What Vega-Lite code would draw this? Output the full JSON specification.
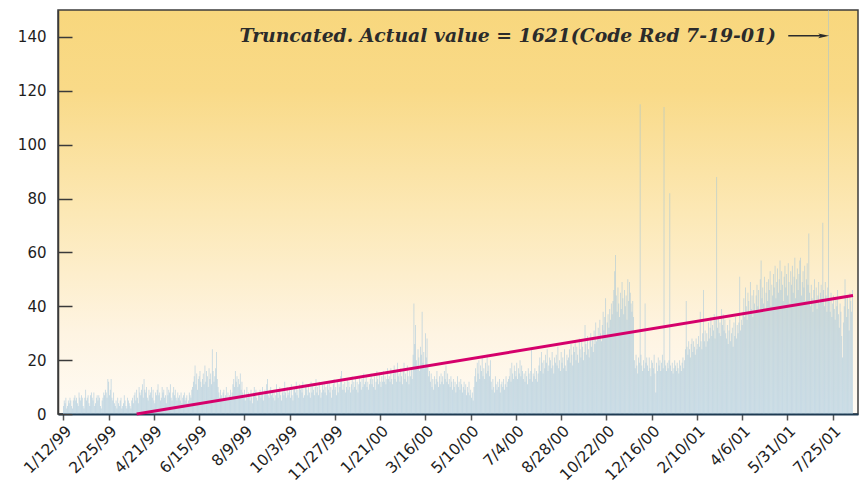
{
"$schema": "https://vega.github.io/schema/vega-lite/v6.json",
"width": 800, "height": 404,
"autosize": {"type": "none"},
"padding": {"left": 58, "top": 10, "right": 4, "bottom": 73},
"background": "white",
"config": {
  "view": {"stroke": "#3d3d3d", "strokeWidth": 1.5,
    "fill": {"gradient": "linear", "x1": 0, "y1": 0, "x2": 0, "y2": 1,
      "stops": [{"offset": 0, "color": "#f8d77d"}, {"offset": 0.2, "color": "#f9da88"}, {"offset": 0.5, "color": "#fce8b5"}, {"offset": 0.8, "color": "#fef4e2"}, {"offset": 1, "color": "#fffbf4"}]}},
  "axis": {"labelFont": "DejaVu Sans", "labelFontSize": 15, "labelColor": "#1e1e1e", "domainColor": "#3a3a3a", "tickColor": "#3a3a3a", "grid": false, "title": null}
},
"data": {"values": [
{"i":0,"v":3},{"i":1,"v":5},{"i":2,"v":4},{"i":3,"v":6},{"i":4,"v":2},{"i":5,"v":3},{"i":6,"v":5},
{"i":7,"v":4},{"i":8,"v":6},{"i":9,"v":5},{"i":10,"v":3},{"i":11,"v":2},{"i":12,"v":5},{"i":13,"v":6},
{"i":14,"v":7},{"i":15,"v":5},{"i":16,"v":6},{"i":17,"v":4},{"i":18,"v":3},{"i":19,"v":8},{"i":20,"v":6},
{"i":21,"v":5},{"i":22,"v":7},{"i":23,"v":6},{"i":24,"v":3},{"i":25,"v":2},{"i":26,"v":6},{"i":27,"v":9},
{"i":28,"v":5},{"i":29,"v":6},{"i":30,"v":7},{"i":31,"v":4},{"i":32,"v":3},{"i":33,"v":7},{"i":34,"v":8},
{"i":35,"v":6},{"i":36,"v":5},{"i":37,"v":8},{"i":38,"v":3},{"i":39,"v":4},{"i":40,"v":6},{"i":41,"v":7},
{"i":42,"v":5},{"i":43,"v":7},{"i":44,"v":6},{"i":45,"v":3},{"i":46,"v":2},{"i":47,"v":5},{"i":48,"v":6},
{"i":49,"v":8},
{"i":50,"v":7},{"i":51,"v":9},{"i":52,"v":8},{"i":53,"v":6},{"i":54,"v":13},{"i":55,"v":12},{"i":56,"v":7},
{"i":57,"v":9},{"i":58,"v":13},{"i":59,"v":6},{"i":60,"v":5},{"i":61,"v":8},
{"i":62,"v":4},{"i":63,"v":3},{"i":64,"v":5},{"i":65,"v":2},{"i":66,"v":6},{"i":67,"v":4},{"i":68,"v":3},
{"i":69,"v":5},{"i":70,"v":6},{"i":71,"v":2},{"i":72,"v":3},{"i":73,"v":4},{"i":74,"v":7},{"i":75,"v":5},
{"i":76,"v":3},{"i":77,"v":2},{"i":78,"v":6},{"i":79,"v":5},{"i":80,"v":4},{"i":81,"v":3},{"i":82,"v":2},
{"i":83,"v":5},{"i":84,"v":6},{"i":85,"v":4},
{"i":86,"v":7},{"i":87,"v":8},{"i":88,"v":5},{"i":89,"v":9},{"i":90,"v":6},{"i":91,"v":4},{"i":92,"v":10},
{"i":93,"v":8},{"i":94,"v":7},{"i":95,"v":9},{"i":96,"v":11},{"i":97,"v":6},{"i":98,"v":13},{"i":99,"v":9},
{"i":100,"v":8},{"i":101,"v":10},{"i":102,"v":6},{"i":103,"v":5},{"i":104,"v":9},{"i":105,"v":7},{"i":106,"v":8},
{"i":107,"v":10},{"i":108,"v":6},{"i":109,"v":9},{"i":110,"v":5},{"i":111,"v":4},{"i":112,"v":8},{"i":113,"v":7},
{"i":114,"v":9},{"i":115,"v":11},{"i":116,"v":7},{"i":117,"v":8},{"i":118,"v":5},{"i":119,"v":6},{"i":120,"v":10},
{"i":121,"v":8},{"i":122,"v":9},{"i":123,"v":6},{"i":124,"v":7},{"i":125,"v":4},{"i":126,"v":10},{"i":127,"v":7},
{"i":128,"v":9},{"i":129,"v":8},{"i":130,"v":11},{"i":131,"v":6},{"i":132,"v":5},{"i":133,"v":8},{"i":134,"v":10},
{"i":135,"v":7},{"i":136,"v":9},{"i":137,"v":6},{"i":138,"v":5},{"i":139,"v":8},
{"i":140,"v":6},{"i":141,"v":7},{"i":142,"v":5},{"i":143,"v":8},{"i":144,"v":4},{"i":145,"v":6},{"i":146,"v":7},
{"i":147,"v":8},{"i":148,"v":5},{"i":149,"v":6},{"i":150,"v":7},{"i":151,"v":4},{"i":152,"v":5},{"i":153,"v":8},
{"i":154,"v":7},{"i":155,"v":6},{"i":156,"v":9},{"i":157,"v":10},
{"i":158,"v":12},{"i":159,"v":14},{"i":160,"v":18},{"i":161,"v":11},{"i":162,"v":15},{"i":163,"v":9},{"i":164,"v":13},
{"i":165,"v":14},{"i":166,"v":16},{"i":167,"v":12},{"i":168,"v":10},{"i":169,"v":13},{"i":170,"v":15},{"i":171,"v":11},
{"i":172,"v":18},{"i":173,"v":12},{"i":174,"v":16},{"i":175,"v":14},{"i":176,"v":10},{"i":177,"v":17},{"i":178,"v":13},
{"i":179,"v":15},{"i":180,"v":11},{"i":181,"v":24},{"i":182,"v":16},{"i":183,"v":12},{"i":184,"v":14},{"i":185,"v":17},
{"i":186,"v":23},{"i":187,"v":13},
{"i":188,"v":10},{"i":189,"v":8},{"i":190,"v":6},{"i":191,"v":9},{"i":192,"v":7},{"i":193,"v":5},{"i":194,"v":8},
{"i":195,"v":9},{"i":196,"v":6},{"i":197,"v":7},{"i":198,"v":10},{"i":199,"v":5},{"i":200,"v":8},{"i":201,"v":6},
{"i":202,"v":7},{"i":203,"v":9},{"i":204,"v":6},{"i":205,"v":8},
{"i":206,"v":11},{"i":207,"v":13},{"i":208,"v":10},{"i":209,"v":16},{"i":210,"v":12},{"i":211,"v":14},{"i":212,"v":10},
{"i":213,"v":13},{"i":214,"v":11},{"i":215,"v":15},{"i":216,"v":9},{"i":217,"v":12},
{"i":218,"v":8},{"i":219,"v":6},{"i":220,"v":9},{"i":221,"v":5},{"i":222,"v":7},{"i":223,"v":10},{"i":224,"v":6},
{"i":225,"v":8},{"i":226,"v":7},{"i":227,"v":5},{"i":228,"v":9},{"i":229,"v":6},{"i":230,"v":4},{"i":231,"v":8},
{"i":232,"v":10},{"i":233,"v":7},{"i":234,"v":9},{"i":235,"v":6},{"i":236,"v":5},{"i":237,"v":8},{"i":238,"v":7},
{"i":239,"v":9},{"i":240,"v":6},{"i":241,"v":8},{"i":242,"v":10},{"i":243,"v":5},{"i":244,"v":7},{"i":245,"v":9},
{"i":246,"v":8},{"i":247,"v":11},{"i":248,"v":13},{"i":249,"v":7},{"i":250,"v":6},{"i":251,"v":9},{"i":252,"v":10},
{"i":253,"v":7},{"i":254,"v":8},{"i":255,"v":6},{"i":256,"v":9},{"i":257,"v":5},{"i":258,"v":7},{"i":259,"v":11},
{"i":260,"v":8},{"i":261,"v":6},{"i":262,"v":9},{"i":263,"v":10},{"i":264,"v":7},{"i":265,"v":5},{"i":266,"v":8},
{"i":267,"v":9},{"i":268,"v":7},{"i":269,"v":12},{"i":270,"v":8},{"i":271,"v":6},{"i":272,"v":10},{"i":273,"v":7},
{"i":274,"v":8},{"i":275,"v":9},{"i":276,"v":6},{"i":277,"v":11},{"i":278,"v":7},{"i":279,"v":5},{"i":280,"v":9},
{"i":281,"v":10},{"i":282,"v":8},{"i":283,"v":12},{"i":284,"v":7},{"i":285,"v":9},{"i":286,"v":6},{"i":287,"v":11},
{"i":288,"v":9},{"i":289,"v":10},{"i":290,"v":8},{"i":291,"v":12},{"i":292,"v":6},{"i":293,"v":7},{"i":294,"v":10},
{"i":295,"v":11},{"i":296,"v":9},{"i":297,"v":7},{"i":298,"v":10},{"i":299,"v":8},{"i":300,"v":6},{"i":301,"v":12},
{"i":302,"v":8},{"i":303,"v":11},{"i":304,"v":9},{"i":305,"v":7},{"i":306,"v":10},{"i":307,"v":13},{"i":308,"v":8},
{"i":309,"v":10},{"i":310,"v":7},{"i":311,"v":12},{"i":312,"v":9},{"i":313,"v":6},{"i":314,"v":8},{"i":315,"v":11},
{"i":316,"v":9},{"i":317,"v":12},{"i":318,"v":8},{"i":319,"v":10},{"i":320,"v":7},{"i":321,"v":11},{"i":322,"v":9},
{"i":323,"v":12},{"i":324,"v":8},{"i":325,"v":10},{"i":326,"v":6},{"i":327,"v":9},{"i":328,"v":11},{"i":329,"v":13},
{"i":330,"v":9},{"i":331,"v":10},{"i":332,"v":7},{"i":333,"v":12},{"i":334,"v":8},{"i":335,"v":11},{"i":336,"v":10},
{"i":337,"v":14},{"i":338,"v":16},{"i":339,"v":9},
{"i":340,"v":11},{"i":341,"v":9},{"i":342,"v":12},{"i":343,"v":8},{"i":344,"v":10},{"i":345,"v":13},{"i":346,"v":9},
{"i":347,"v":12},{"i":348,"v":10},{"i":349,"v":8},{"i":350,"v":11},{"i":351,"v":14},{"i":352,"v":9},{"i":353,"v":12},
{"i":354,"v":10},{"i":355,"v":13},{"i":356,"v":9},{"i":357,"v":12},{"i":358,"v":8},{"i":359,"v":11},{"i":360,"v":14},
{"i":361,"v":12},{"i":362,"v":9},{"i":363,"v":13},{"i":364,"v":10},{"i":365,"v":15},{"i":366,"v":11},{"i":367,"v":12},
{"i":368,"v":14},{"i":369,"v":10},{"i":370,"v":12},{"i":371,"v":9},{"i":372,"v":11},{"i":373,"v":13},{"i":374,"v":15},
{"i":375,"v":11},{"i":376,"v":13},{"i":377,"v":10},{"i":378,"v":14},{"i":379,"v":9},{"i":380,"v":12},{"i":381,"v":16},
{"i":382,"v":13},{"i":383,"v":11},{"i":384,"v":15},{"i":385,"v":12},{"i":386,"v":10},{"i":387,"v":14},{"i":388,"v":12},
{"i":389,"v":16},{"i":390,"v":12},{"i":391,"v":14},{"i":392,"v":11},{"i":393,"v":13},{"i":394,"v":17},{"i":395,"v":13},
{"i":396,"v":14},{"i":397,"v":12},{"i":398,"v":17},{"i":399,"v":13},{"i":400,"v":11},{"i":401,"v":15},{"i":402,"v":18},
{"i":403,"v":13},{"i":404,"v":16},{"i":405,"v":12},{"i":406,"v":19},{"i":407,"v":14},
{"i":408,"v":15},{"i":409,"v":12},{"i":410,"v":17},{"i":411,"v":14},{"i":412,"v":11},{"i":413,"v":16},{"i":414,"v":19},
{"i":415,"v":13},{"i":416,"v":15},{"i":417,"v":12},{"i":418,"v":18},{"i":419,"v":14},{"i":420,"v":11},{"i":421,"v":16},
{"i":422,"v":14},{"i":423,"v":17},{"i":424,"v":13},
{"i":425,"v":22},{"i":426,"v":41},{"i":427,"v":26},{"i":428,"v":33},{"i":429,"v":20},{"i":430,"v":18},{"i":431,"v":24},
{"i":432,"v":21},{"i":433,"v":16},{"i":434,"v":25},{"i":435,"v":22},{"i":436,"v":38},{"i":437,"v":19},{"i":438,"v":23},
{"i":439,"v":17},{"i":440,"v":30},{"i":441,"v":21},{"i":442,"v":28},{"i":443,"v":18},{"i":444,"v":14},{"i":445,"v":16},
{"i":446,"v":12},{"i":447,"v":15},{"i":448,"v":10},{"i":449,"v":13},{"i":450,"v":9},{"i":451,"v":14},{"i":452,"v":11},
{"i":453,"v":13},{"i":454,"v":16},{"i":455,"v":12},{"i":456,"v":10},{"i":457,"v":14},{"i":458,"v":11},{"i":459,"v":15},
{"i":460,"v":12},{"i":461,"v":14},{"i":462,"v":11},{"i":463,"v":16},{"i":464,"v":13},{"i":465,"v":18},{"i":466,"v":12},
{"i":467,"v":15},{"i":468,"v":11},{"i":469,"v":13},{"i":470,"v":10},{"i":471,"v":14},{"i":472,"v":12},{"i":473,"v":9},
{"i":474,"v":13},{"i":475,"v":10},{"i":476,"v":12},{"i":477,"v":8},{"i":478,"v":11},{"i":479,"v":14},{"i":480,"v":10},
{"i":481,"v":12},{"i":482,"v":9},{"i":483,"v":13},{"i":484,"v":11},{"i":485,"v":8},{"i":486,"v":10},{"i":487,"v":12},
{"i":488,"v":9},{"i":489,"v":11},{"i":490,"v":7},{"i":491,"v":10},{"i":492,"v":8},{"i":493,"v":12},
{"i":494,"v":7},{"i":495,"v":9},{"i":496,"v":6},{"i":497,"v":8},{"i":498,"v":5},{"i":499,"v":10},
{"i":500,"v":14},{"i":501,"v":17},{"i":502,"v":12},{"i":503,"v":19},{"i":504,"v":15},{"i":505,"v":20},{"i":506,"v":13},
{"i":507,"v":18},{"i":508,"v":16},{"i":509,"v":21},{"i":510,"v":14},{"i":511,"v":17},{"i":512,"v":13},{"i":513,"v":19},
{"i":514,"v":15},{"i":515,"v":22},{"i":516,"v":16},{"i":517,"v":18},{"i":518,"v":14},{"i":519,"v":20},
{"i":520,"v":12},{"i":521,"v":9},{"i":522,"v":13},{"i":523,"v":10},{"i":524,"v":8},{"i":525,"v":14},{"i":526,"v":11},
{"i":527,"v":9},{"i":528,"v":12},{"i":529,"v":10},{"i":530,"v":13},{"i":531,"v":8},{"i":532,"v":11},{"i":533,"v":12},
{"i":534,"v":10},{"i":535,"v":13},{"i":536,"v":9},{"i":537,"v":11},{"i":538,"v":14},{"i":539,"v":10},{"i":540,"v":12},{"i":541,"v":13},
{"i":542,"v":14},{"i":543,"v":17},{"i":544,"v":12},{"i":545,"v":19},{"i":546,"v":15},{"i":547,"v":13},{"i":548,"v":18},
{"i":549,"v":16},{"i":550,"v":14},{"i":551,"v":19},{"i":552,"v":13},{"i":553,"v":17},{"i":554,"v":15},{"i":555,"v":20},
{"i":556,"v":14},{"i":557,"v":18},{"i":558,"v":16},
{"i":559,"v":13},{"i":560,"v":15},{"i":561,"v":12},{"i":562,"v":16},{"i":563,"v":14},{"i":564,"v":11},{"i":565,"v":17},
{"i":566,"v":15},{"i":567,"v":13},{"i":568,"v":16},{"i":569,"v":24},{"i":570,"v":12},{"i":571,"v":15},{"i":572,"v":14},
{"i":573,"v":17},{"i":574,"v":13},{"i":575,"v":16},{"i":576,"v":12},{"i":577,"v":15},
{"i":578,"v":18},{"i":579,"v":21},{"i":580,"v":16},{"i":581,"v":23},{"i":582,"v":19},{"i":583,"v":15},{"i":584,"v":20},
{"i":585,"v":17},{"i":586,"v":22},{"i":587,"v":19},{"i":588,"v":24},{"i":589,"v":16},{"i":590,"v":18},{"i":591,"v":21},
{"i":592,"v":20},{"i":593,"v":17},{"i":594,"v":23},{"i":595,"v":18},{"i":596,"v":15},{"i":597,"v":21},{"i":598,"v":19},
{"i":599,"v":22},{"i":600,"v":18},{"i":601,"v":25},{"i":602,"v":17},{"i":603,"v":20},{"i":604,"v":16},{"i":605,"v":23},
{"i":606,"v":19},{"i":607,"v":21},{"i":608,"v":17},{"i":609,"v":24},{"i":610,"v":18},{"i":611,"v":16},{"i":612,"v":22},
{"i":613,"v":20},
{"i":614,"v":21},{"i":615,"v":24},{"i":616,"v":19},{"i":617,"v":26},{"i":618,"v":22},{"i":619,"v":18},{"i":620,"v":25},
{"i":621,"v":23},{"i":622,"v":27},{"i":623,"v":20},{"i":624,"v":25},{"i":625,"v":22},{"i":626,"v":19},{"i":627,"v":28},
{"i":628,"v":24},{"i":629,"v":21},{"i":630,"v":27},{"i":631,"v":25},{"i":632,"v":20},{"i":633,"v":23},{"i":634,"v":33},
{"i":635,"v":26},{"i":636,"v":22},{"i":637,"v":29},{"i":638,"v":24},{"i":639,"v":21},{"i":640,"v":27},{"i":641,"v":30},
{"i":642,"v":25},{"i":643,"v":28},{"i":644,"v":23},{"i":645,"v":31},{"i":646,"v":26},{"i":647,"v":34},{"i":648,"v":27},
{"i":649,"v":29},
{"i":650,"v":32},{"i":651,"v":28},{"i":652,"v":35},{"i":653,"v":30},{"i":654,"v":27},{"i":655,"v":33},{"i":656,"v":38},
{"i":657,"v":31},{"i":658,"v":36},{"i":659,"v":43},{"i":660,"v":29},{"i":661,"v":34},{"i":662,"v":37},{"i":663,"v":32},
{"i":664,"v":39},{"i":665,"v":35},{"i":666,"v":41},{"i":667,"v":37},
{"i":668,"v":42},{"i":669,"v":46},{"i":670,"v":53},{"i":671,"v":59},{"i":672,"v":44},{"i":673,"v":38},{"i":674,"v":47},
{"i":675,"v":41},{"i":676,"v":36},{"i":677,"v":45},{"i":678,"v":39},{"i":679,"v":49},{"i":680,"v":43},{"i":681,"v":37},
{"i":682,"v":46},{"i":683,"v":40},{"i":684,"v":44},{"i":685,"v":35},{"i":686,"v":50},{"i":687,"v":42},{"i":688,"v":49},
{"i":689,"v":45},{"i":690,"v":41},{"i":691,"v":38},{"i":692,"v":42},{"i":693,"v":36},
{"i":694,"v":20},{"i":695,"v":17},{"i":696,"v":22},{"i":697,"v":18},{"i":698,"v":15},{"i":699,"v":21},{"i":700,"v":19},
{"i":701,"v":115},
{"i":702,"v":22},{"i":703,"v":18},{"i":704,"v":16},{"i":705,"v":20},{"i":706,"v":17},{"i":707,"v":41},{"i":708,"v":19},{"i":709,"v":21},
{"i":710,"v":18},{"i":711,"v":16},{"i":712,"v":21},{"i":713,"v":17},{"i":714,"v":14},{"i":715,"v":20},{"i":716,"v":19},
{"i":717,"v":17},{"i":718,"v":22},{"i":719,"v":15},{"i":720,"v":8},{"i":721,"v":19},{"i":722,"v":16},{"i":723,"v":21},
{"i":724,"v":18},{"i":725,"v":20},{"i":726,"v":16},{"i":727,"v":19},{"i":728,"v":22},{"i":729,"v":17},
{"i":730,"v":114},
{"i":731,"v":20},{"i":732,"v":18},{"i":733,"v":16},
{"i":734,"v":19},{"i":735,"v":17},{"i":736,"v":20},
{"i":737,"v":82},
{"i":738,"v":18},{"i":739,"v":16},{"i":740,"v":19},{"i":741,"v":15},{"i":742,"v":17},{"i":743,"v":20},{"i":744,"v":18},
{"i":745,"v":16},{"i":746,"v":19},{"i":747,"v":17},{"i":748,"v":15},{"i":749,"v":20},{"i":750,"v":18},{"i":751,"v":16},
{"i":752,"v":19},{"i":753,"v":21},{"i":754,"v":17},{"i":755,"v":20},{"i":756,"v":24},
{"i":757,"v":42},
{"i":758,"v":25},{"i":759,"v":22},{"i":760,"v":27},{"i":761,"v":24},{"i":762,"v":21},{"i":763,"v":26},{"i":764,"v":28},
{"i":765,"v":23},{"i":766,"v":27},{"i":767,"v":25},{"i":768,"v":22},{"i":769,"v":28},{"i":770,"v":24},{"i":771,"v":26},
{"i":772,"v":29},{"i":773,"v":25},{"i":774,"v":38},{"i":775,"v":27},{"i":776,"v":24},{"i":777,"v":30},
{"i":778,"v":46},
{"i":779,"v":27},{"i":780,"v":31},{"i":781,"v":25},
{"i":782,"v":30},{"i":783,"v":27},{"i":784,"v":34},{"i":785,"v":28},{"i":786,"v":32},{"i":787,"v":36},{"i":788,"v":29},
{"i":789,"v":33},{"i":790,"v":31},{"i":791,"v":37},{"i":792,"v":28},{"i":793,"v":35},
{"i":794,"v":88},
{"i":795,"v":32},{"i":796,"v":36},{"i":797,"v":30},{"i":798,"v":34},{"i":799,"v":29},{"i":800,"v":39},{"i":801,"v":33},
{"i":802,"v":37},{"i":803,"v":31},{"i":804,"v":35},{"i":805,"v":30},
{"i":806,"v":28},{"i":807,"v":33},{"i":808,"v":26},{"i":809,"v":31},{"i":810,"v":35},{"i":811,"v":27},{"i":812,"v":30},
{"i":813,"v":32},{"i":814,"v":25},{"i":815,"v":34},{"i":816,"v":29},{"i":817,"v":36},{"i":818,"v":28},{"i":819,"v":33},
{"i":820,"v":30},{"i":821,"v":34},
{"i":822,"v":51},
{"i":823,"v":31},{"i":824,"v":35},{"i":825,"v":33},
{"i":826,"v":38},{"i":827,"v":43},{"i":828,"v":36},{"i":829,"v":47},{"i":830,"v":40},{"i":831,"v":35},{"i":832,"v":45},
{"i":833,"v":42},{"i":834,"v":37},{"i":835,"v":49},{"i":836,"v":39},{"i":837,"v":44},{"i":838,"v":36},{"i":839,"v":46},
{"i":840,"v":41},{"i":841,"v":38},
{"i":842,"v":44},{"i":843,"v":48},{"i":844,"v":40},{"i":845,"v":46},{"i":846,"v":38},{"i":847,"v":50},{"i":848,"v":57},
{"i":849,"v":43},{"i":850,"v":47},{"i":851,"v":41},{"i":852,"v":51},{"i":853,"v":39},{"i":854,"v":45},{"i":855,"v":49},
{"i":856,"v":42},{"i":857,"v":50},{"i":858,"v":46},{"i":859,"v":53},{"i":860,"v":40},{"i":861,"v":48},{"i":862,"v":44},
{"i":863,"v":52},{"i":864,"v":47},{"i":865,"v":55},{"i":866,"v":43},{"i":867,"v":49},{"i":868,"v":54},{"i":869,"v":45},
{"i":870,"v":50},{"i":871,"v":57},{"i":872,"v":46},{"i":873,"v":53},{"i":874,"v":48},{"i":875,"v":42},{"i":876,"v":51},
{"i":877,"v":55},
{"i":878,"v":47},{"i":879,"v":52},{"i":880,"v":44},{"i":881,"v":56},{"i":882,"v":49},{"i":883,"v":41},{"i":884,"v":53},
{"i":885,"v":48},{"i":886,"v":55},{"i":887,"v":45},{"i":888,"v":51},{"i":889,"v":58},{"i":890,"v":43},{"i":891,"v":50},
{"i":892,"v":54},{"i":893,"v":46},{"i":894,"v":52},{"i":895,"v":57},{"i":896,"v":58},{"i":897,"v":44},{"i":898,"v":49},
{"i":899,"v":53},{"i":900,"v":47},{"i":901,"v":55},{"i":902,"v":42},{"i":903,"v":50},{"i":904,"v":56},{"i":905,"v":48},
{"i":906,"v":67},
{"i":907,"v":45},{"i":908,"v":40},{"i":909,"v":48},{"i":910,"v":43},{"i":911,"v":38},{"i":912,"v":46},{"i":913,"v":50},
{"i":914,"v":42},{"i":915,"v":47},{"i":916,"v":39},{"i":917,"v":44},{"i":918,"v":49},{"i":919,"v":41},{"i":920,"v":45},
{"i":921,"v":48},{"i":922,"v":43},
{"i":923,"v":71},
{"i":924,"v":46},{"i":925,"v":40},{"i":926,"v":49},{"i":927,"v":44},{"i":928,"v":38},{"i":929,"v":47},
{"i":930,"v":1621},
{"i":931,"v":42},{"i":932,"v":38},{"i":933,"v":45},{"i":934,"v":36},{"i":935,"v":41},{"i":936,"v":44},{"i":937,"v":39},
{"i":938,"v":35},{"i":939,"v":43},{"i":940,"v":40},{"i":941,"v":46},{"i":942,"v":37},{"i":943,"v":32},{"i":944,"v":41},
{"i":945,"v":38},{"i":946,"v":29},{"i":947,"v":21},{"i":948,"v":34},{"i":949,"v":40},{"i":950,"v":50},{"i":951,"v":43},
{"i":952,"v":36},{"i":953,"v":44},{"i":954,"v":39},{"i":955,"v":31},{"i":956,"v":45},{"i":957,"v":42},{"i":958,"v":38},
{"i":959,"v":46}
]},
"layer": [
  {
    "mark": {"type": "bar", "size": 0.85, "color": "#9fc3da", "opacity": 0.6, "clip": true},
    "encoding": {
      "x": {"field": "i", "type": "quantitative",
        "scale": {"domain": [-0.5, 959.7], "nice": false, "zero": false},
        "axis": {"values": [0,55,110,165,220,275,330,385,440,495,550,605,660,715,770,825,880,935],
          "labelExpr": "['1/12/99','2/25/99','4/21/99','6/15/99','8/9/99','10/3/99','11/27/99','1/21/00','3/16/00','5/10/00','7/4/00','8/28/00','10/22/00','12/16/00','2/10/01','4/6/01','5/31/01','7/25/01'][round(datum.value/55)]",
          "labelAngle": -45, "labelOverlap": false, "labelFlush": false, "labelBound": false, "labelFontSize": 15.5,
          "tickSize": 6, "tickWidth": 1.5, "tickColor": "#555555", "domainColor": "#1f3b52", "domainWidth": 2, "labelPadding": 3}},
      "y": {"field": "v", "type": "quantitative",
        "scale": {"domain": [0, 150], "nice": false},
        "axis": {"values": [0,10,20,30,40,50,60,70,80,90,100,110,120,130,140],
          "labelExpr": "datum.value % 20 == 0 ? datum.label : ''",
          "tickSize": {"condition": {"test": "datum.value % 20 != 0", "value": -6}, "value": -14},
          "tickWidth": 1.5, "domainWidth": 1.5, "labelPadding": 26, "labelOverlap": false}}
    }
  },
  {
    "data": {"values": [{"i": 89, "t": 0}, {"i": 959.7, "t": 44}]},
    "mark": {"type": "line", "color": "#d5006b", "strokeWidth": 3},
    "encoding": {"x": {"field": "i", "type": "quantitative"}, "y": {"field": "t", "type": "quantitative"}}
  },
  {
    "data": {"values": [{"i": 866, "v": 140.4, "label": "Truncated. Actual value = 1621(Code Red 7-19-01)"}]},
    "mark": {"type": "text", "align": "right", "baseline": "middle", "font": "DejaVu Serif", "fontSize": 18.8, "fontWeight": "bold", "fontStyle": "italic", "color": "#2b2b2b"},
    "encoding": {"x": {"field": "i", "type": "quantitative"}, "y": {"field": "v", "type": "quantitative"}, "text": {"field": "label"}}
  },
  {
    "data": {"values": [{"i": 881, "i2": 925, "v": 140.4}]},
    "mark": {"type": "rule", "color": "#2b2b2b", "strokeWidth": 1.5},
    "encoding": {"x": {"field": "i", "type": "quantitative"}, "x2": {"field": "i2"}, "y": {"field": "v", "type": "quantitative"}}
  },
  {
    "data": {"values": [{"i": 924, "v": 140.4}]},
    "mark": {"type": "point", "shape": "M-1,-0.45L1,0L-1,0.45L-0.55,0Z", "filled": true, "size": 120, "color": "#2b2b2b", "opacity": 1},
    "encoding": {"x": {"field": "i", "type": "quantitative"}, "y": {"field": "v", "type": "quantitative"}}
  }
]
}
